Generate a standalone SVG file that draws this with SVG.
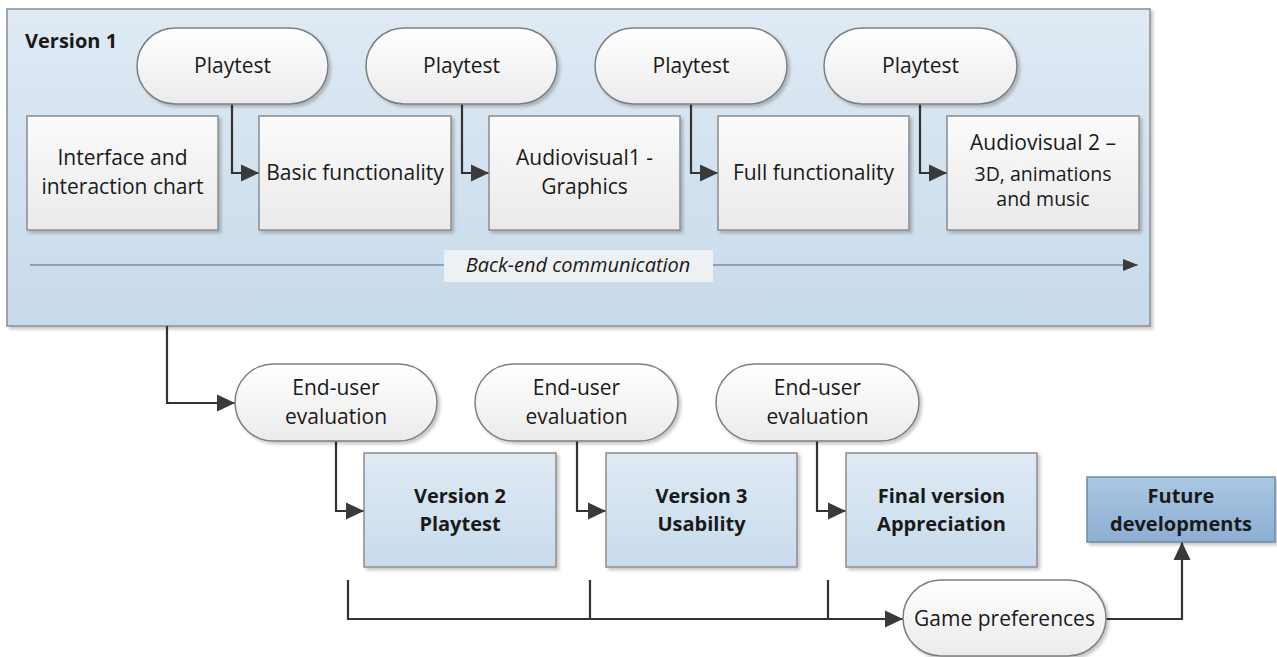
<svg xmlns="http://www.w3.org/2000/svg" width="1277" height="657" viewBox="0 0 1277 657">
<defs>
<linearGradient id="gCont" x1="0" y1="0" x2="0" y2="1"><stop offset="0" stop-color="#dfeaf4"/><stop offset="1" stop-color="#c7daeb"/></linearGradient>
<linearGradient id="gBox" x1="0" y1="0" x2="0" y2="1"><stop offset="0" stop-color="#fbfbfb"/><stop offset="1" stop-color="#eaeaea"/></linearGradient>
<linearGradient id="gPill" x1="0" y1="0" x2="0" y2="1"><stop offset="0" stop-color="#ffffff"/><stop offset="1" stop-color="#ebebeb"/></linearGradient>
<linearGradient id="gBlue" x1="0" y1="0" x2="0" y2="1"><stop offset="0" stop-color="#dfeaf4"/><stop offset="1" stop-color="#c8dbec"/></linearGradient>
<linearGradient id="gDark" x1="0" y1="0" x2="0" y2="1"><stop offset="0" stop-color="#abc7e2"/><stop offset="1" stop-color="#8cafd3"/></linearGradient>
<filter id="sh" x="-5%" y="-5%" width="115%" height="120%"><feDropShadow dx="2.5" dy="2.5" stdDeviation="1.5" flood-color="#000" flood-opacity="0.22"/></filter>
<marker id="arr" markerUnits="userSpaceOnUse" markerWidth="20" markerHeight="20" refX="18" refY="9" orient="auto"><path d="M0,0.5 L18,9 L0,17.5 z" fill="#3a3a3a"/></marker>
<marker id="arrS" markerUnits="userSpaceOnUse" markerWidth="16" markerHeight="16" refX="15" refY="7" orient="auto"><path d="M0,1 L15,7 L0,13 z" fill="#3a3a3a"/></marker>
</defs>
<style>
.t{font-family:"Open Sans","Noto Sans",sans-serif;font-size:21px;fill:#1a1a1a;text-anchor:middle}
.b{font-weight:bold;font-size:20px}
.s{font-size:19.5px}
.box{fill:url(#gBox);stroke:#8c8c8c;stroke-width:1.5;filter:url(#sh)}
.pill{fill:url(#gPill);stroke:#7f7f7f;stroke-width:1.5;filter:url(#sh)}
.blue{fill:url(#gBlue);stroke:#8c8c8c;stroke-width:1.5;filter:url(#sh)}
.dark{fill:url(#gDark);stroke:#6e8aa6;stroke-width:1.5;filter:url(#sh)}
.c{fill:none;stroke:#333;stroke-width:2.2}
</style>
<g id="version1">
<rect x="7" y="9" width="1143" height="317" fill="url(#gCont)" stroke="#8c8c8c" stroke-width="1.5" filter="url(#sh)"/>
<text x="25" y="48" class="t b" style="text-anchor:start;font-size:20px">Version 1</text>
</g>
<g id="backend">
<line x1="30" y1="265" x2="1138" y2="265" stroke="#7d8c99" stroke-width="1.5" marker-end="url(#arrS)"/>
<rect x="444" y="250" width="269" height="32" fill="#eef1f4"/>
<text x="578" y="272" class="t" style="font-style:italic;font-size:20px">Back-end communication</text>
</g>
<g id="connectors">
<path class="c" d="M232,104 V173 H259" marker-end="url(#arr)"/>
<path class="c" d="M462,104 V173 H489" marker-end="url(#arr)"/>
<path class="c" d="M691,104 V173 H718" marker-end="url(#arr)"/>
<path class="c" d="M920,104 V173 H947" marker-end="url(#arr)"/>
<path class="c" d="M167,326 V403 H235" marker-end="url(#arr)"/>
<path class="c" d="M336,441 V511 H364" marker-end="url(#arr)"/>
<path class="c" d="M577,441 V511 H606" marker-end="url(#arr)"/>
<path class="c" d="M817,441 V511 H846" marker-end="url(#arr)"/>
<path class="c" d="M348,580 V619 H903" marker-end="url(#arr)"/>
<path class="c" d="M590,580 V619"/>
<path class="c" d="M828,580 V619"/>
<path class="c" d="M1106,619 H1182 V542" marker-end="url(#arr)"/>
</g>
<g id="playtest1"><rect class="pill" x="137" y="28" width="191" height="76" rx="38"/><text class="t" x="232.5" y="73">Playtest</text></g>
<g id="playtest2"><rect class="pill" x="366" y="28" width="191" height="76" rx="38"/><text class="t" x="461.5" y="73">Playtest</text></g>
<g id="playtest3"><rect class="pill" x="595" y="28" width="192" height="76" rx="38"/><text class="t" x="691" y="73">Playtest</text></g>
<g id="playtest4"><rect class="pill" x="824" y="28" width="193" height="76" rx="38"/><text class="t" x="920.5" y="73">Playtest</text></g>
<g id="interface"><rect class="box" x="27" y="116" width="191" height="114"/><text class="t" x="122.5" y="165">Interface and</text><text class="t" x="122.5" y="194">interaction chart</text></g>
<g id="basic"><rect class="box" x="259" y="116" width="192" height="114"/><text class="t" x="355" y="180">Basic functionality</text></g>
<g id="av1"><rect class="box" x="489" y="116" width="191" height="114"/><text class="t" x="584.5" y="165">Audiovisual1 -</text><text class="t" x="584.5" y="194">Graphics</text></g>
<g id="full"><rect class="box" x="718" y="116" width="191" height="114"/><text class="t" x="813.5" y="180">Full functionality</text></g>
<g id="av2"><rect class="box" x="947" y="116" width="192" height="114"/><text class="t" x="1043" y="150">Audiovisual 2 –</text><text class="t s" x="1043" y="181">3D, animations</text><text class="t s" x="1043" y="206">and music</text></g>
<g id="eval1"><rect class="pill" x="235" y="364" width="202" height="77" rx="38.5"/><text class="t" x="336" y="395">End-user</text><text class="t" x="336" y="424">evaluation</text></g>
<g id="eval2"><rect class="pill" x="475" y="364" width="203" height="77" rx="38.5"/><text class="t" x="576.5" y="395">End-user</text><text class="t" x="576.5" y="424">evaluation</text></g>
<g id="eval3"><rect class="pill" x="716" y="364" width="203" height="77" rx="38.5"/><text class="t" x="817.5" y="395">End-user</text><text class="t" x="817.5" y="424">evaluation</text></g>
<g id="version2"><rect class="blue" x="364" y="453" width="192" height="114"/><text class="t b" x="460" y="503">Version 2</text><text class="t b" x="460" y="531">Playtest</text></g>
<g id="version3"><rect class="blue" x="606" y="453" width="191" height="114"/><text class="t b" x="701.5" y="503">Version 3</text><text class="t b" x="701.5" y="531">Usability</text></g>
<g id="final"><rect class="blue" x="846" y="453" width="191" height="114"/><text class="t b" x="941.5" y="503">Final version</text><text class="t b" x="941.5" y="531">Appreciation</text></g>
<g id="future"><rect class="dark" x="1087" y="477" width="188" height="65"/><text class="t b" x="1181" y="503">Future</text><text class="t b" x="1181" y="531">developments</text></g>
<g id="gamepref"><rect class="pill" x="903" y="580" width="203" height="76" rx="38"/><text class="t" x="1004.5" y="626">Game preferences</text></g>
</svg>
